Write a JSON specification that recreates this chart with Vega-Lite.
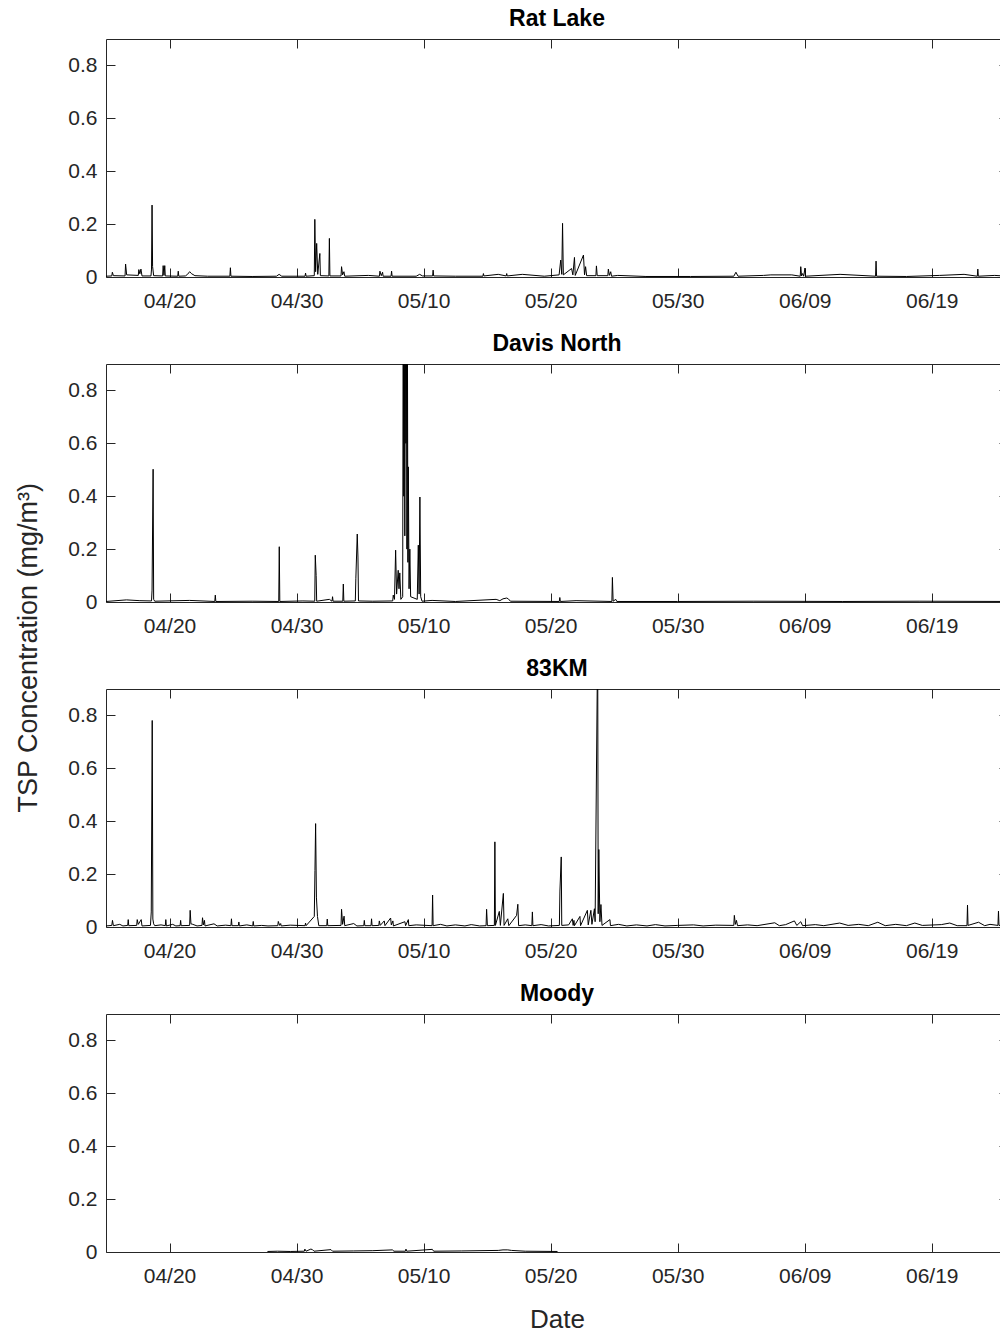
{
  "$schema": "https://vega.github.io/schema/vega-lite/v6.json",
  "padding": {"left": 15, "top": 7, "right": 0, "bottom": 0},
  "spacing": 20,
  "title": {"text": "TSP Concentration (mg/m³)", "orient": "left", "anchor": "middle", "fontSize": 27, "fontWeight": "normal", "color": "#262626", "offset": 24, "dx": 22},
  "datasets": {
    "rat": [
      {"t":"2017-04-15T00:00","v":0.003},{"t":"2017-04-15T11:00","v":0.004},{"t":"2017-04-15T12:00","v":0.018},{"t":"2017-04-15T14:00","v":0.005},
      {"t":"2017-04-16T12:00","v":0.004},{"t":"2017-04-16T13:00","v":0.049},{"t":"2017-04-16T15:00","v":0.008},
      {"t":"2017-04-17T13:00","v":0.006},{"t":"2017-04-17T14:00","v":0.028},{"t":"2017-04-17T16:00","v":0.012},{"t":"2017-04-17T18:00","v":0.03},{"t":"2017-04-17T20:00","v":0.004},
      {"t":"2017-04-18T13:00","v":0.004},{"t":"2017-04-18T14:00","v":0.03},{"t":"2017-04-18T15:00","v":0.272},{"t":"2017-04-18T16:00","v":0.04},{"t":"2017-04-18T18:00","v":0.005},
      {"t":"2017-04-19T11:00","v":0.004},{"t":"2017-04-19T12:00","v":0.043},{"t":"2017-04-19T13:30","v":0.006},{"t":"2017-04-19T15:00","v":0.043},{"t":"2017-04-19T16:00","v":0.004},
      {"t":"2017-04-20T15:30","v":0.003},{"t":"2017-04-20T16:30","v":0.022},{"t":"2017-04-20T17:30","v":0.003},
      {"t":"2017-04-21T06:00","v":0.004},{"t":"2017-04-21T10:00","v":0.01},{"t":"2017-04-21T14:00","v":0.02},{"t":"2017-04-21T18:00","v":0.012},{"t":"2017-04-22T00:00","v":0.005},
      {"t":"2017-04-23T00:00","v":0.003},{"t":"2017-04-24T18:00","v":0.003},{"t":"2017-04-24T19:00","v":0.035},{"t":"2017-04-24T20:00","v":0.003},
      {"t":"2017-04-26T12:00","v":0.002},{"t":"2017-04-28T10:00","v":0.003},{"t":"2017-04-28T15:00","v":0.01},{"t":"2017-04-28T20:00","v":0.003},
      {"t":"2017-04-30T16:00","v":0.003},{"t":"2017-04-30T17:00","v":0.015},{"t":"2017-04-30T18:00","v":0.003},
      {"t":"2017-05-01T09:30","v":0.005},{"t":"2017-05-01T10:30","v":0.218},{"t":"2017-05-01T12:00","v":0.02},{"t":"2017-05-01T14:00","v":0.127},{"t":"2017-05-01T16:00","v":0.01},{"t":"2017-05-01T20:00","v":0.089},{"t":"2017-05-01T21:00","v":0.005},
      {"t":"2017-05-02T13:00","v":0.004},{"t":"2017-05-02T14:00","v":0.146},{"t":"2017-05-02T15:00","v":0.004},
      {"t":"2017-05-03T12:00","v":0.004},{"t":"2017-05-03T13:00","v":0.039},{"t":"2017-05-03T15:00","v":0.008},{"t":"2017-05-03T17:30","v":0.02},{"t":"2017-05-03T19:00","v":0.003},
      {"t":"2017-05-05T15:30","v":0.006},{"t":"2017-05-06T12:30","v":0.003},{"t":"2017-05-06T13:30","v":0.022},{"t":"2017-05-06T16:00","v":0.005},{"t":"2017-05-06T18:30","v":0.018},{"t":"2017-05-06T19:30","v":0.003},
      {"t":"2017-05-07T10:30","v":0.003},{"t":"2017-05-07T11:30","v":0.022},{"t":"2017-05-07T12:30","v":0.003},
      {"t":"2017-05-09T10:00","v":0.003},{"t":"2017-05-09T16:30","v":0.01},{"t":"2017-05-09T22:00","v":0.004},
      {"t":"2017-05-10T17:00","v":0.004},{"t":"2017-05-10T18:00","v":0.026},{"t":"2017-05-10T19:00","v":0.004},
      {"t":"2017-05-12T12:00","v":0.003},{"t":"2017-05-14T16:00","v":0.003},{"t":"2017-05-14T17:00","v":0.013},{"t":"2017-05-14T18:00","v":0.004},
      {"t":"2017-05-15T21:00","v":0.01},{"t":"2017-05-16T12:00","v":0.004},{"t":"2017-05-16T13:00","v":0.013},{"t":"2017-05-16T14:00","v":0.004},
      {"t":"2017-05-17T18:30","v":0.01},{"t":"2017-05-19T12:00","v":0.003},
      {"t":"2017-05-20T16:00","v":0.008},{"t":"2017-05-20T19:00","v":0.064},{"t":"2017-05-20T21:00","v":0.01},{"t":"2017-05-20T22:30","v":0.203},{"t":"2017-05-21T00:00","v":0.008},
      {"t":"2017-05-21T15:30","v":0.032},{"t":"2017-05-21T18:00","v":0.008},{"t":"2017-05-21T21:00","v":0.074},{"t":"2017-05-21T22:30","v":0.006},
      {"t":"2017-05-22T14:00","v":0.083},{"t":"2017-05-22T16:00","v":0.008},{"t":"2017-05-22T18:00","v":0.039},{"t":"2017-05-22T20:00","v":0.005},
      {"t":"2017-05-23T13:30","v":0.005},{"t":"2017-05-23T14:30","v":0.042},{"t":"2017-05-23T16:00","v":0.005},
      {"t":"2017-05-24T12:00","v":0.005},{"t":"2017-05-24T13:00","v":0.03},{"t":"2017-05-24T15:00","v":0.006},{"t":"2017-05-24T17:30","v":0.02},{"t":"2017-05-24T19:00","v":0.003},
      {"t":"2017-05-25T06:45","v":0.006},{"t":"2017-05-27T12:00","v":0.002},{"t":"2017-05-31T00:00","v":0.002},
      {"t":"2017-06-03T10:00","v":0.003},{"t":"2017-06-03T14:00","v":0.018},{"t":"2017-06-03T18:00","v":0.003},
      {"t":"2017-06-05T18:00","v":0.006},{"t":"2017-06-06T08:00","v":0.008},{"t":"2017-06-07T23:30","v":0.008},
      {"t":"2017-06-08T15:30","v":0.003},{"t":"2017-06-08T16:30","v":0.039},{"t":"2017-06-08T18:00","v":0.004},{"t":"2017-06-08T20:00","v":0.013},{"t":"2017-06-08T22:00","v":0.003},{"t":"2017-06-09T00:30","v":0.034},{"t":"2017-06-09T01:30","v":0.003},
      {"t":"2017-06-11T18:45","v":0.01},{"t":"2017-06-14T13:45","v":0.003},{"t":"2017-06-14T14:45","v":0.06},{"t":"2017-06-14T15:45","v":0.003},
      {"t":"2017-06-17T00:00","v":0.002},{"t":"2017-06-19T15:00","v":0.006},{"t":"2017-06-21T13:00","v":0.01},
      {"t":"2017-06-22T14:00","v":0.003},{"t":"2017-06-22T15:00","v":0.03},{"t":"2017-06-22T16:00","v":0.003},{"t":"2017-06-23T23:00","v":0.006},{"t":"2017-06-25T00:00","v":0.003}
    ],
    "davis": [
      {"t":"2017-04-15T00:00","v":0.002},{"t":"2017-04-16T14:40","v":0.008},{"t":"2017-04-17T16:00","v":0.005},
      {"t":"2017-04-18T14:00","v":0.004},{"t":"2017-04-18T15:00","v":0.045},{"t":"2017-04-18T17:00","v":0.502},{"t":"2017-04-18T18:00","v":0.01},{"t":"2017-04-18T20:00","v":0.003},
      {"t":"2017-04-21T14:00","v":0.006},{"t":"2017-04-23T13:30","v":0.002},{"t":"2017-04-23T14:30","v":0.026},{"t":"2017-04-23T15:30","v":0.002},
      {"t":"2017-04-26T12:00","v":0.003},{"t":"2017-04-28T14:20","v":0.002},{"t":"2017-04-28T15:20","v":0.209},{"t":"2017-04-28T16:20","v":0.002},
      {"t":"2017-04-30T12:00","v":0.004},{"t":"2017-05-01T10:20","v":0.003},{"t":"2017-05-01T11:20","v":0.177},{"t":"2017-05-01T13:00","v":0.1},{"t":"2017-05-01T14:00","v":0.003},
      {"t":"2017-05-02T14:00","v":0.01},{"t":"2017-05-02T19:00","v":0.003},{"t":"2017-05-02T20:00","v":0.02},{"t":"2017-05-02T21:00","v":0.003},
      {"t":"2017-05-03T15:20","v":0.003},{"t":"2017-05-03T16:20","v":0.068},{"t":"2017-05-03T17:20","v":0.003},
      {"t":"2017-05-04T15:00","v":0.004},{"t":"2017-05-04T16:00","v":0.09},{"t":"2017-05-04T18:40","v":0.257},{"t":"2017-05-04T20:00","v":0.17},{"t":"2017-05-04T21:00","v":0.004},
      {"t":"2017-05-06T00:00","v":0.003},{"t":"2017-05-07T13:40","v":0.004},{"t":"2017-05-07T14:40","v":0.026},{"t":"2017-05-07T17:00","v":0.01},{"t":"2017-05-07T19:10","v":0.196},{"t":"2017-05-07T21:00","v":0.03},
      {"t":"2017-05-08T00:00","v":0.12},{"t":"2017-05-08T01:30","v":0.05},{"t":"2017-05-08T03:00","v":0.11},{"t":"2017-05-08T05:00","v":0.01},{"t":"2017-05-08T08:30","v":0.02},
      {"t":"2017-05-08T09:30","v":1.3},{"t":"2017-05-08T10:30","v":0.4},{"t":"2017-05-08T11:30","v":1.2},{"t":"2017-05-08T12:30","v":0.25},{"t":"2017-05-08T13:30","v":1.1},{"t":"2017-05-08T14:30","v":0.6},{"t":"2017-05-08T15:30","v":1.0},{"t":"2017-05-08T16:30","v":0.2},{"t":"2017-05-08T17:30","v":0.95},{"t":"2017-05-08T18:20","v":0.15},{"t":"2017-05-08T19:10","v":0.511},{"t":"2017-05-08T20:30","v":0.05},{"t":"2017-05-08T22:00","v":0.2},{"t":"2017-05-08T23:30","v":0.02},
      {"t":"2017-05-09T12:00","v":0.01},{"t":"2017-05-09T14:00","v":0.215},{"t":"2017-05-09T15:30","v":0.03},{"t":"2017-05-09T17:00","v":0.397},{"t":"2017-05-09T18:30","v":0.02},{"t":"2017-05-09T21:00","v":0.003},
      {"t":"2017-05-10T16:00","v":0.006},{"t":"2017-05-12T12:00","v":0.002},{"t":"2017-05-15T17:00","v":0.01},{"t":"2017-05-16T00:00","v":0.005},{"t":"2017-05-16T06:00","v":0.012},{"t":"2017-05-16T13:00","v":0.015},{"t":"2017-05-16T16:00","v":0.012},{"t":"2017-05-16T20:00","v":0.003},
      {"t":"2017-05-20T16:20","v":0.002},{"t":"2017-05-20T17:20","v":0.017},{"t":"2017-05-20T18:20","v":0.002},{"t":"2017-05-22T00:00","v":0.005},
      {"t":"2017-05-24T19:40","v":0.002},{"t":"2017-05-24T20:40","v":0.093},{"t":"2017-05-24T22:00","v":0.003},{"t":"2017-05-25T03:00","v":0.01},{"t":"2017-05-25T05:00","v":0.002},
      {"t":"2017-05-30T00:00","v":0.002},{"t":"2017-06-05T00:00","v":0.003},{"t":"2017-06-12T00:00","v":0.002},{"t":"2017-06-18T00:00","v":0.003},{"t":"2017-06-25T00:00","v":0.002}
    ],
    "km": [
      {"t":"2017-04-15T00:00","v":0.004},{"t":"2017-04-15T11:00","v":0.006},{"t":"2017-04-15T12:15","v":0.025},{"t":"2017-04-15T14:00","v":0.005},
      {"t":"2017-04-16T02:00","v":0.01},{"t":"2017-04-16T08:00","v":0.004},{"t":"2017-04-16T17:00","v":0.006},{"t":"2017-04-16T18:00","v":0.028},{"t":"2017-04-16T19:00","v":0.005},
      {"t":"2017-04-17T10:00","v":0.006},{"t":"2017-04-17T11:00","v":0.028},{"t":"2017-04-17T13:00","v":0.01},{"t":"2017-04-17T18:30","v":0.028},{"t":"2017-04-17T20:00","v":0.004},
      {"t":"2017-04-18T12:00","v":0.006},{"t":"2017-04-18T13:30","v":0.057},{"t":"2017-04-18T15:20","v":0.781},{"t":"2017-04-18T16:30","v":0.03},{"t":"2017-04-18T18:00","v":0.012},{"t":"2017-04-18T20:00","v":0.005},
      {"t":"2017-04-19T08:00","v":0.008},{"t":"2017-04-19T16:00","v":0.005},{"t":"2017-04-19T17:00","v":0.028},{"t":"2017-04-19T18:00","v":0.004},
      {"t":"2017-04-20T06:00","v":0.01},{"t":"2017-04-20T12:00","v":0.004},{"t":"2017-04-20T20:00","v":0.005},{"t":"2017-04-20T21:00","v":0.025},{"t":"2017-04-20T22:00","v":0.005},
      {"t":"2017-04-21T14:00","v":0.006},{"t":"2017-04-21T15:00","v":0.063},{"t":"2017-04-21T16:30","v":0.012},{"t":"2017-04-21T20:00","v":0.01},
      {"t":"2017-04-22T04:00","v":0.004},{"t":"2017-04-22T13:20","v":0.006},{"t":"2017-04-22T14:20","v":0.035},{"t":"2017-04-22T16:00","v":0.008},{"t":"2017-04-22T18:00","v":0.025},{"t":"2017-04-22T19:00","v":0.004},
      {"t":"2017-04-23T12:00","v":0.012},{"t":"2017-04-23T18:00","v":0.004},{"t":"2017-04-24T10:00","v":0.007},{"t":"2017-04-24T20:00","v":0.005},{"t":"2017-04-24T21:00","v":0.031},{"t":"2017-04-24T22:00","v":0.005},
      {"t":"2017-04-25T10:00","v":0.005},{"t":"2017-04-25T11:00","v":0.019},{"t":"2017-04-25T12:00","v":0.004},
      {"t":"2017-04-26T02:00","v":0.008},{"t":"2017-04-26T13:10","v":0.004},{"t":"2017-04-26T14:10","v":0.021},{"t":"2017-04-26T15:10","v":0.004},
      {"t":"2017-04-27T06:00","v":0.006},{"t":"2017-04-27T18:00","v":0.004},{"t":"2017-04-28T12:30","v":0.005},{"t":"2017-04-28T13:30","v":0.021},{"t":"2017-04-28T16:00","v":0.006},{"t":"2017-04-28T18:00","v":0.013},{"t":"2017-04-28T19:00","v":0.004},
      {"t":"2017-04-29T12:00","v":0.007},{"t":"2017-04-30T16:00","v":0.005},{"t":"2017-04-30T17:00","v":0.015},{"t":"2017-04-30T18:00","v":0.005},
      {"t":"2017-05-01T09:30","v":0.04},{"t":"2017-05-01T10:45","v":0.214},{"t":"2017-05-01T12:00","v":0.391},{"t":"2017-05-01T13:30","v":0.113},{"t":"2017-05-01T15:30","v":0.04},{"t":"2017-05-01T18:00","v":0.005},
      {"t":"2017-05-02T09:00","v":0.005},{"t":"2017-05-02T10:00","v":0.03},{"t":"2017-05-02T11:00","v":0.005},
      {"t":"2017-05-03T12:00","v":0.006},{"t":"2017-05-03T13:00","v":0.067},{"t":"2017-05-03T15:00","v":0.01},{"t":"2017-05-03T17:45","v":0.041},{"t":"2017-05-03T19:00","v":0.005},
      {"t":"2017-05-04T12:00","v":0.013},{"t":"2017-05-04T18:00","v":0.004},
      {"t":"2017-05-05T07:00","v":0.005},{"t":"2017-05-05T08:00","v":0.025},{"t":"2017-05-05T09:00","v":0.005},{"t":"2017-05-05T20:40","v":0.005},{"t":"2017-05-05T21:40","v":0.031},{"t":"2017-05-05T22:40","v":0.005},
      {"t":"2017-05-06T11:20","v":0.006},{"t":"2017-05-06T12:20","v":0.023},{"t":"2017-05-06T14:00","v":0.006},{"t":"2017-05-06T21:40","v":0.023},{"t":"2017-05-06T23:00","v":0.005},
      {"t":"2017-05-07T09:40","v":0.034},{"t":"2017-05-07T11:00","v":0.008},{"t":"2017-05-07T14:00","v":0.023},{"t":"2017-05-07T15:00","v":0.004},
      {"t":"2017-05-08T12:40","v":0.02},{"t":"2017-05-08T14:00","v":0.005},{"t":"2017-05-08T19:10","v":0.028},{"t":"2017-05-08T20:00","v":0.005},{"t":"2017-05-09T10:00","v":0.008},
      {"t":"2017-05-10T16:00","v":0.005},{"t":"2017-05-10T17:00","v":0.121},{"t":"2017-05-10T18:00","v":0.005},
      {"t":"2017-05-11T08:00","v":0.01},{"t":"2017-05-11T20:00","v":0.004},{"t":"2017-05-12T12:00","v":0.008},{"t":"2017-05-13T06:00","v":0.004},{"t":"2017-05-13T18:00","v":0.009},{"t":"2017-05-14T10:00","v":0.004},
      {"t":"2017-05-14T22:00","v":0.005},{"t":"2017-05-14T23:00","v":0.067},{"t":"2017-05-15T00:30","v":0.005},
      {"t":"2017-05-15T13:40","v":0.006},{"t":"2017-05-15T14:40","v":0.322},{"t":"2017-05-15T15:40","v":0.006},{"t":"2017-05-15T23:00","v":0.059},{"t":"2017-05-16T01:00","v":0.006},
      {"t":"2017-05-16T06:40","v":0.127},{"t":"2017-05-16T08:00","v":0.006},{"t":"2017-05-16T15:00","v":0.031},{"t":"2017-05-16T17:00","v":0.005},
      {"t":"2017-05-17T07:40","v":0.044},{"t":"2017-05-17T10:00","v":0.086},{"t":"2017-05-17T11:30","v":0.005},
      {"t":"2017-05-18T00:00","v":0.008},{"t":"2017-05-18T12:30","v":0.005},{"t":"2017-05-18T13:30","v":0.057},{"t":"2017-05-18T14:30","v":0.005},
      {"t":"2017-05-19T06:00","v":0.009},{"t":"2017-05-19T20:00","v":0.004},
      {"t":"2017-05-20T16:30","v":0.006},{"t":"2017-05-20T17:30","v":0.136},{"t":"2017-05-20T20:00","v":0.265},{"t":"2017-05-20T21:00","v":0.006},
      {"t":"2017-05-21T10:00","v":0.008},{"t":"2017-05-21T17:00","v":0.031},{"t":"2017-05-21T18:30","v":0.006},{"t":"2017-05-21T20:00","v":0.025},{"t":"2017-05-21T21:00","v":0.005},
      {"t":"2017-05-22T07:20","v":0.04},{"t":"2017-05-22T08:30","v":0.005},{"t":"2017-05-22T21:20","v":0.063},{"t":"2017-05-22T23:00","v":0.008},
      {"t":"2017-05-23T04:00","v":0.063},{"t":"2017-05-23T06:00","v":0.01},{"t":"2017-05-23T10:40","v":0.069},{"t":"2017-05-23T12:00","v":0.02},
      {"t":"2017-05-23T16:50","v":1.1},{"t":"2017-05-23T17:50","v":0.05},{"t":"2017-05-23T19:00","v":0.293},{"t":"2017-05-23T21:00","v":0.02},{"t":"2017-05-23T23:00","v":0.085},{"t":"2017-05-24T01:00","v":0.006},
      {"t":"2017-05-24T16:00","v":0.028},{"t":"2017-05-24T17:00","v":0.005},{"t":"2017-05-25T08:00","v":0.01},{"t":"2017-05-26T00:00","v":0.004},{"t":"2017-05-26T18:00","v":0.008},
      {"t":"2017-05-27T14:00","v":0.004},{"t":"2017-05-28T06:00","v":0.009},{"t":"2017-05-29T00:00","v":0.004},{"t":"2017-05-30T00:00","v":0.006},{"t":"2017-05-31T06:00","v":0.008},
      {"t":"2017-06-01T00:00","v":0.004},{"t":"2017-06-02T00:00","v":0.007},
      {"t":"2017-06-03T10:00","v":0.006},{"t":"2017-06-03T11:00","v":0.044},{"t":"2017-06-03T13:00","v":0.01},{"t":"2017-06-03T15:00","v":0.025},{"t":"2017-06-03T17:00","v":0.005},
      {"t":"2017-06-04T12:00","v":0.008},{"t":"2017-06-05T06:00","v":0.005},{"t":"2017-06-06T15:20","v":0.016},{"t":"2017-06-07T00:00","v":0.005},{"t":"2017-06-07T12:00","v":0.009},
      {"t":"2017-06-08T04:30","v":0.023},{"t":"2017-06-08T09:00","v":0.006},{"t":"2017-06-08T16:30","v":0.02},{"t":"2017-06-08T20:00","v":0.005},
      {"t":"2017-06-09T20:00","v":0.009},{"t":"2017-06-10T12:00","v":0.005},{"t":"2017-06-11T18:00","v":0.015},{"t":"2017-06-12T10:00","v":0.006},{"t":"2017-06-13T06:00","v":0.01},
      {"t":"2017-06-14T00:00","v":0.005},{"t":"2017-06-14T18:00","v":0.018},{"t":"2017-06-15T08:00","v":0.005},{"t":"2017-06-16T04:00","v":0.01},{"t":"2017-06-17T00:00","v":0.005},
      {"t":"2017-06-17T16:00","v":0.015},{"t":"2017-06-18T06:00","v":0.006},{"t":"2017-06-19T18:00","v":0.009},{"t":"2017-06-20T10:00","v":0.015},{"t":"2017-06-21T00:00","v":0.005},
      {"t":"2017-06-21T18:30","v":0.005},{"t":"2017-06-21T19:30","v":0.083},{"t":"2017-06-21T20:30","v":0.006},{"t":"2017-06-22T16:20","v":0.018},{"t":"2017-06-23T04:00","v":0.005},
      {"t":"2017-06-23T14:00","v":0.01},{"t":"2017-06-24T05:00","v":0.006},{"t":"2017-06-24T06:00","v":0.06},{"t":"2017-06-24T07:00","v":0.006},{"t":"2017-06-25T00:00","v":0.005}
    ],
    "moody": [
      {"t":"2017-04-27T17:00","v":0.002},{"t":"2017-04-28T12:00","v":0.003},{"t":"2017-04-29T12:00","v":0.002},
      {"t":"2017-04-30T14:40","v":0.003},{"t":"2017-04-30T15:40","v":0.011},{"t":"2017-04-30T18:00","v":0.003},
      {"t":"2017-05-01T03:00","v":0.011},{"t":"2017-05-01T06:00","v":0.009},{"t":"2017-05-01T09:00","v":0.003},
      {"t":"2017-05-02T17:00","v":0.009},{"t":"2017-05-02T20:00","v":0.003},{"t":"2017-05-04T12:00","v":0.004},{"t":"2017-05-06T00:00","v":0.005},
      {"t":"2017-05-07T13:00","v":0.008},{"t":"2017-05-07T16:00","v":0.003},{"t":"2017-05-08T13:40","v":0.003},{"t":"2017-05-08T14:40","v":0.011},{"t":"2017-05-08T16:00","v":0.003},
      {"t":"2017-05-10T16:30","v":0.01},{"t":"2017-05-10T19:00","v":0.003},{"t":"2017-05-13T00:00","v":0.004},
      {"t":"2017-05-15T21:00","v":0.006},{"t":"2017-05-16T06:00","v":0.008},{"t":"2017-05-16T15:00","v":0.008},{"t":"2017-05-16T22:00","v":0.006},
      {"t":"2017-05-18T00:00","v":0.003},{"t":"2017-05-20T13:00","v":0.002}
    ]
  },
  "vconcat": [
    {
      "title": "Rat Lake",
      "width": 902, "height": 238,
      "data": {"name": "rat"},
      "layer": [
        {"mark": {"type": "line", "color": "black", "strokeWidth": 1, "clip": true},
         "encoding": {
           "x": {"field": "t", "type": "temporal", "title": null,
                 "scale": {"domain": [{"year":2017,"month":4,"date":15},{"year":2017,"month":6,"date":25}]},
                 "axis": {"orient": "bottom", "format": "%m/%d", "labelPadding": 22, "values": [{"year":2017,"month":4,"date":20},{"year":2017,"month":4,"date":30},{"year":2017,"month":5,"date":10},{"year":2017,"month":5,"date":20},{"year":2017,"month":5,"date":30},{"year":2017,"month":6,"date":9},{"year":2017,"month":6,"date":19}]}},
           "y": {"field": "v", "type": "quantitative", "title": null, "scale": {"domain": [0, 0.9]},
                 "axis": {"orient": "left", "format": ".1~f", "labelPadding": 18, "values": [0, 0.2, 0.4, 0.6, 0.8]}}
         }},
        {"mark": {"type": "line", "opacity": 0, "clip": true},
         "encoding": {
           "x": {"field": "t", "type": "temporal", "title": null,
                 "axis": {"orient": "top", "labels": false, "values": [{"year":2017,"month":4,"date":20},{"year":2017,"month":4,"date":30},{"year":2017,"month":5,"date":10},{"year":2017,"month":5,"date":20},{"year":2017,"month":5,"date":30},{"year":2017,"month":6,"date":9},{"year":2017,"month":6,"date":19}]}},
           "y": {"field": "v", "type": "quantitative", "title": null,
                 "axis": {"orient": "right", "labels": false, "values": [0, 0.2, 0.4, 0.6, 0.8]}}
         }}
      ],
      "resolve": {"axis": {"x": "independent", "y": "independent"}}
    },
    {
      "title": "Davis North",
      "width": 902, "height": 238,
      "data": {"name": "davis"},
      "layer": [
        {"mark": {"type": "line", "color": "black", "strokeWidth": 1, "clip": true},
         "encoding": {
           "x": {"field": "t", "type": "temporal", "title": null,
                 "scale": {"domain": [{"year":2017,"month":4,"date":15},{"year":2017,"month":6,"date":25}]},
                 "axis": {"orient": "bottom", "format": "%m/%d", "labelPadding": 22, "values": [{"year":2017,"month":4,"date":20},{"year":2017,"month":4,"date":30},{"year":2017,"month":5,"date":10},{"year":2017,"month":5,"date":20},{"year":2017,"month":5,"date":30},{"year":2017,"month":6,"date":9},{"year":2017,"month":6,"date":19}]}},
           "y": {"field": "v", "type": "quantitative", "title": null, "scale": {"domain": [0, 0.9]},
                 "axis": {"orient": "left", "format": ".1~f", "labelPadding": 18, "values": [0, 0.2, 0.4, 0.6, 0.8]}}
         }},
        {"mark": {"type": "line", "opacity": 0, "clip": true},
         "encoding": {
           "x": {"field": "t", "type": "temporal", "title": null,
                 "axis": {"orient": "top", "labels": false, "values": [{"year":2017,"month":4,"date":20},{"year":2017,"month":4,"date":30},{"year":2017,"month":5,"date":10},{"year":2017,"month":5,"date":20},{"year":2017,"month":5,"date":30},{"year":2017,"month":6,"date":9},{"year":2017,"month":6,"date":19}]}},
           "y": {"field": "v", "type": "quantitative", "title": null,
                 "axis": {"orient": "right", "labels": false, "values": [0, 0.2, 0.4, 0.6, 0.8]}}
         }}
      ],
      "resolve": {"axis": {"x": "independent", "y": "independent"}}
    },
    {
      "title": "83KM",
      "width": 902, "height": 238,
      "data": {"name": "km"},
      "layer": [
        {"mark": {"type": "line", "color": "black", "strokeWidth": 1, "clip": true},
         "encoding": {
           "x": {"field": "t", "type": "temporal", "title": null,
                 "scale": {"domain": [{"year":2017,"month":4,"date":15},{"year":2017,"month":6,"date":25}]},
                 "axis": {"orient": "bottom", "format": "%m/%d", "labelPadding": 22, "values": [{"year":2017,"month":4,"date":20},{"year":2017,"month":4,"date":30},{"year":2017,"month":5,"date":10},{"year":2017,"month":5,"date":20},{"year":2017,"month":5,"date":30},{"year":2017,"month":6,"date":9},{"year":2017,"month":6,"date":19}]}},
           "y": {"field": "v", "type": "quantitative", "title": null, "scale": {"domain": [0, 0.9]},
                 "axis": {"orient": "left", "format": ".1~f", "labelPadding": 18, "values": [0, 0.2, 0.4, 0.6, 0.8]}}
         }},
        {"mark": {"type": "line", "opacity": 0, "clip": true},
         "encoding": {
           "x": {"field": "t", "type": "temporal", "title": null,
                 "axis": {"orient": "top", "labels": false, "values": [{"year":2017,"month":4,"date":20},{"year":2017,"month":4,"date":30},{"year":2017,"month":5,"date":10},{"year":2017,"month":5,"date":20},{"year":2017,"month":5,"date":30},{"year":2017,"month":6,"date":9},{"year":2017,"month":6,"date":19}]}},
           "y": {"field": "v", "type": "quantitative", "title": null,
                 "axis": {"orient": "right", "labels": false, "values": [0, 0.2, 0.4, 0.6, 0.8]}}
         }}
      ],
      "resolve": {"axis": {"x": "independent", "y": "independent"}}
    },
    {
      "title": "Moody",
      "width": 902, "height": 238,
      "data": {"name": "moody"},
      "layer": [
        {"mark": {"type": "line", "color": "black", "strokeWidth": 1, "clip": true},
         "encoding": {
           "x": {"field": "t", "type": "temporal", "title": "Date",
                 "scale": {"domain": [{"year":2017,"month":4,"date":15},{"year":2017,"month":6,"date":25}]},
                 "axis": {"orient": "bottom", "format": "%m/%d", "labelPadding": 22, "titlePadding": 20, "titleFontSize": 26, "values": [{"year":2017,"month":4,"date":20},{"year":2017,"month":4,"date":30},{"year":2017,"month":5,"date":10},{"year":2017,"month":5,"date":20},{"year":2017,"month":5,"date":30},{"year":2017,"month":6,"date":9},{"year":2017,"month":6,"date":19}]}},
           "y": {"field": "v", "type": "quantitative", "title": null, "scale": {"domain": [0, 0.9]},
                 "axis": {"orient": "left", "format": ".1~f", "labelPadding": 18, "values": [0, 0.2, 0.4, 0.6, 0.8]}}
         }},
        {"mark": {"type": "line", "opacity": 0, "clip": true},
         "encoding": {
           "x": {"field": "t", "type": "temporal", "title": null,
                 "axis": {"orient": "top", "labels": false, "values": [{"year":2017,"month":4,"date":20},{"year":2017,"month":4,"date":30},{"year":2017,"month":5,"date":10},{"year":2017,"month":5,"date":20},{"year":2017,"month":5,"date":30},{"year":2017,"month":6,"date":9},{"year":2017,"month":6,"date":19}]}},
           "y": {"field": "v", "type": "quantitative", "title": null,
                 "axis": {"orient": "right", "labels": false, "values": [0, 0.2, 0.4, 0.6, 0.8]}}
         }}
      ],
      "resolve": {"axis": {"x": "independent", "y": "independent"}}
    }
  ],
  "config": {
    "font": "Liberation Sans",
    "background": "white",
    "view": {"stroke": "#262626", "strokeWidth": 1},
    "axis": {"domain": false, "grid": false, "tickColor": "#262626", "tickSize": -9, "tickWidth": 1,
             "labelFontSize": 21, "labelColor": "#262626",
             "titleFontSize": 25, "titleFontWeight": "normal", "titleColor": "#262626"},
    "title": {"fontSize": 23, "fontWeight": "bold", "color": "black", "offset": 8}
  }
}
